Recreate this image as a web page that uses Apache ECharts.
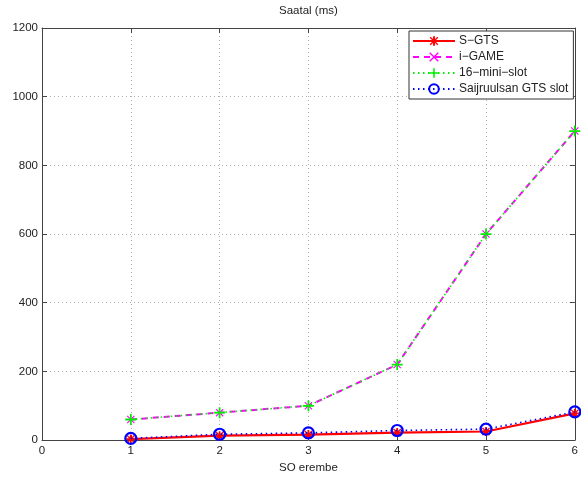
<!DOCTYPE html>
<html>
<head>
<meta charset="utf-8">
<script src="https://cdn.jsdelivr.net/npm/echarts@6/dist/echarts.min.js"></script>
<style>
  html, body { margin: 0; padding: 0; background: #fff; }
  #chart { width: 581px; height: 479px; }
</style>
</head>
<body>
<div id="chart"></div>
<script>
// SO count on the x axis
const soCounts = [1, 2, 3, 4, 5, 6];

// Delay values (ms) for each scheme
const sGts = [3, 13, 16, 22, 25, 78];
const iGame = [60, 80, 100, 220, 600, 900];
const miniSlot16 = [60, 80, 100, 220, 600, 900];
const improvedGtsSlot = [5, 17, 21, 28, 32, 82];

const seriesNames = ['S\u2212GTS', 'i\u2212GAME', '16\u2212mini\u2212slot', 'Saijruulsan GTS slot'];

const pairs = (ys) => soCounts.map((x, i) => [x, ys[i]]);

// Marker shapes drawn as filled paths
const plusPath = 'path://M4.2,0H5.8V4.2H10V5.8H5.8V10H4.2V5.8H0V4.2H4.2Z';
const crossPath = 'path://M1,0L5,4L9,0L10,1L6,5L10,9L9,10L5,6L1,10L0,9L4,5L0,1Z';
const asteriskPath = 'path://M4,0H6V4H10V6H6V10H4V6H0V4H4Z M1.5,0.5L5,4L8.5,0.5L9.5,1.5L6,5L9.5,8.5L8.5,9.5L5,6L1.5,9.5L0.5,8.5L4,5L0.5,1.5Z';

const axisColor = '#444';
const textColor = '#222';
const font = 'Liberation Sans, Arial, sans-serif';

const chart = echarts.init(document.getElementById('chart'), null, { renderer: 'canvas' });

chart.setOption({
  animation: false,
  backgroundColor: '#fff',
  grid: { left: 42, right: 4, top: 27, bottom: 30, containLabel: false },
  legend: {
    orient: 'vertical',
    left: 409,
    top: 31,
    padding: [4, 5, 4, 3],
    itemGap: 4,
    itemWidth: 42,
    itemHeight: 12,
    backgroundColor: '#fff',
    borderColor: '#333',
    borderWidth: 1,
    textStyle: { fontFamily: font, fontSize: 12, color: textColor, padding: [0, 0, 0, -1] },
    data: seriesNames
  },
  xAxis: [
    {
      type: 'value', min: 0, max: 6, interval: 1, position: 'bottom',
      name: 'SO erembe', nameLocation: 'middle', nameGap: 17,
      nameTextStyle: { fontFamily: font, fontSize: 11.5, color: textColor },
      axisLine: { onZero: false, lineStyle: { color: axisColor, width: 1 } },
      axisTick: { inside: true, length: 5, lineStyle: { color: axisColor } },
      axisLabel: { fontFamily: font, fontSize: 11.5, color: textColor, margin: 5 },
      splitLine: { show: true, lineStyle: { color: '#b0b0b0', type: [1, 3], width: 1 } }
    },
    {
      type: 'value', min: 0, max: 6, interval: 1, position: 'top',
      name: 'Saatal (ms)', nameLocation: 'middle', nameGap: 11,
      nameTextStyle: { fontFamily: font, fontSize: 11.5, color: textColor },
      axisLine: { onZero: false, lineStyle: { color: axisColor, width: 1 } },
      axisTick: { inside: true, length: 5, lineStyle: { color: axisColor } },
      axisLabel: { show: false },
      splitLine: { show: false }
    }
  ],
  yAxis: [
    {
      type: 'value', min: 0, max: 1200, interval: 200, position: 'left',
      axisLine: { show: true, onZero: false, lineStyle: { color: axisColor, width: 1 } },
      axisTick: { show: true, inside: true, length: 5, lineStyle: { color: axisColor } },
      axisLabel: { fontFamily: font, fontSize: 11.5, color: textColor, margin: 4, formatter: (v) => String(v) },
      splitLine: { show: true, lineStyle: { color: '#b0b0b0', type: [1, 3], width: 1 } }
    },
    {
      type: 'value', min: 0, max: 1200, interval: 200, position: 'right',
      axisLine: { show: true, onZero: false, lineStyle: { color: axisColor, width: 1 } },
      axisTick: { show: true, inside: true, length: 5, lineStyle: { color: axisColor } },
      axisLabel: { show: false },
      splitLine: { show: false }
    }
  ],
  series: [
    {
      name: seriesNames[0], type: 'line', data: pairs(sGts),
      xAxisIndex: 0, yAxisIndex: 0, z: 2,
      symbol: asteriskPath, symbolSize: 9,
      lineStyle: { color: '#ff0000', width: 2.2 },
      itemStyle: { color: '#ff0000' }
    },
    {
      name: seriesNames[1], type: 'line', data: pairs(iGame),
      xAxisIndex: 0, yAxisIndex: 0, z: 3,
      symbol: crossPath, symbolSize: 8,
      lineStyle: { color: '#ff00ff', width: 2, type: [6, 5] },
      itemStyle: { color: '#ff00ff' }
    },
    {
      name: seriesNames[2], type: 'line', data: pairs(miniSlot16),
      xAxisIndex: 0, yAxisIndex: 0, z: 4,
      symbol: plusPath, symbolSize: 11,
      lineStyle: { color: '#00ee00', width: 1.6, type: [1.5, 3.5] },
      itemStyle: { color: '#00ee00' }
    },
    {
      name: seriesNames[3], type: 'line', data: pairs(improvedGtsSlot),
      xAxisIndex: 0, yAxisIndex: 0, z: 5,
      symbol: 'circle', symbolSize: 11,
      lineStyle: { color: '#0000ff', width: 1.6, type: [1.5, 3.5] },
      itemStyle: { color: 'rgba(0,0,0,0)', borderColor: '#0000ff', borderWidth: 2.2 }
    }
  ]
});
</script>
</body>
</html>
